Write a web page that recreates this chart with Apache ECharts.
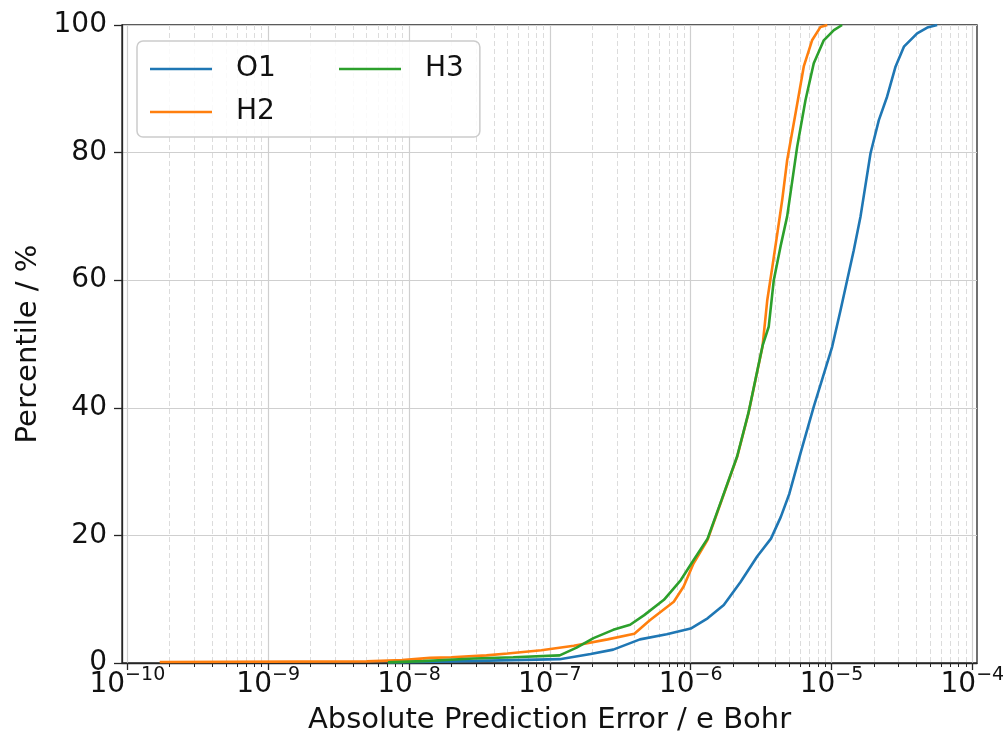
<!DOCTYPE html>
<html>
<head>
<meta charset="utf-8">
<title>Absolute Prediction Error CDF</title>
<script src="https://cdn.jsdelivr.net/npm/echarts@6/dist/echarts.min.js"></script>
<style>
  html, body { margin: 0; padding: 0; background: #ffffff; }
  #chart { width: 1008px; height: 740px; }
</style>
</head>
<body>
<div id="chart"></div>
<script>
// Cumulative distribution of the absolute prediction error per atom.
// x values are log10 of the error (e Bohr), y values are percentiles (%).
const seriesNames = ['O1', 'H2', 'H3'];
const seriesColors = ['#1f77b4', '#ff7f0e', '#2ca02c'];

const o1Log10Err = [-8.15, -7.7, -7.26, -6.93, -6.71, -6.55, -6.36, -6.17, -6.0, -5.88, -5.765, -5.646, -5.528, -5.43, -5.36, -5.30, -5.22, -5.126, -5.067, -4.995, -4.936, -4.889, -4.842, -4.794, -4.723, -4.664, -4.605, -4.545, -4.486, -4.392, -4.32, -4.25];
const o1Pct        = [0.1, 0.25, 0.45, 0.6, 1.4, 2.1, 3.7, 4.5, 5.4, 7.0, 9.1, 12.7, 16.7, 19.5, 22.9, 26.5, 32.9, 40.2, 44.4, 49.6, 55.3, 60.0, 64.7, 70.0, 79.9, 85.1, 88.8, 93.5, 96.6, 98.7, 99.6, 100];

const h2Log10Err = [-9.77, -8.3, -8.05, -7.85, -7.7, -7.45, -7.3, -7.06, -6.83, -6.59, -6.40, -6.29, -6.12, -6.05, -5.98, -5.88, -5.78, -5.67, -5.59, -5.53, -5.49, -5.456, -5.42, -5.385, -5.35, -5.315, -5.256, -5.197, -5.138, -5.078, -5.03];
const h2Pct        = [0.15, 0.25, 0.45, 0.8, 0.9, 1.2, 1.5, 2.0, 2.7, 3.7, 4.6, 6.7, 9.6, 12.0, 15.6, 19.3, 25.5, 32.3, 39.1, 45.4, 49.6, 56.9, 62.1, 67.3, 72.6, 78.8, 86.1, 93.5, 97.6, 99.7, 100];

const h3Log10Err = [-8.15, -7.9, -7.54, -7.26, -6.93, -6.81, -6.69, -6.55, -6.43, -6.33, -6.19, -6.07, -5.98, -5.88, -5.78, -5.67, -5.59, -5.53, -5.49, -5.446, -5.41, -5.362, -5.315, -5.244, -5.185, -5.126, -5.055, -4.983, -4.925];
const h3Pct        = [0.1, 0.3, 0.7, 0.9, 1.2, 2.4, 3.9, 5.2, 6.0, 7.5, 9.9, 13.0, 16.1, 19.5, 25.6, 32.4, 39.2, 45.5, 49.7, 52.7, 60.0, 65.3, 70.0, 80.9, 88.2, 94.0, 97.6, 99.2, 100];

// Axis ticks: decades carry labels, 2..9 x 10^n get minor ticks and dashed grid.
const decadeExponents = [-10, -9, -8, -7, -6, -5, -4];
const yTicks = [0, 20, 40, 60, 80, 100];

const xMin = -10.038;
const xMax = -3.967;

const minorTicks = [];
for (let n = -11; n <= -4; n++) {
  for (let k = 2; k <= 9; k++) {
    const v = n + Math.log10(k);
    if (v > xMin && v < xMax) minorTicks.push(v);
  }
}

const FONT = 'DejaVu Sans';
const TXT = '#111111';

function pairs(xs, ys) {
  return xs.map((x, i) => [x, ys[i]]);
}

const seriesData = [pairs(o1Log10Err, o1Pct), pairs(h2Log10Err, h2Pct), pairs(h3Log10Err, h3Pct)];

const chart = echarts.init(document.getElementById('chart'), null, { renderer: 'canvas' });

chart.setOption({
  backgroundColor: '#ffffff',
  animation: false,
  textStyle: { fontFamily: FONT },
  grid: {
    left: 122, right: 31, top: 25, bottom: 77,
    show: true,
    borderColor: '#262626',
    borderWidth: 1.3,
    backgroundColor: 'transparent'
  },
  legend: {
    data: ['O1', 'H3', 'H2'],
    left: 137,
    top: 41,
    width: 330,
    orient: 'horizontal',
    padding: [14, 16, 11, 13],
    itemGap: 15,
    icon: 'rect',
    itemWidth: 62,
    itemHeight: 2.6,
    backgroundColor: 'rgba(255,255,255,0.85)',
    borderColor: '#cccccc',
    borderWidth: 1.5,
    borderRadius: 6,
    formatter: function (name) {
      return name === 'H3' ? '{g|}{n|' + name + '}' : '{g|}{w|' + name + '}';
    },
    textStyle: {
      fontFamily: FONT,
      fontSize: 28,
      color: TXT,
      rich: {
        g: { width: 19, lineHeight: 30 },
        w: { width: 88, fontSize: 28, lineHeight: 30, fontFamily: FONT, color: TXT },
        n: { fontSize: 28, lineHeight: 30, fontFamily: FONT, color: TXT }
      }
    }
  },
  xAxis: [
    {
      type: 'value',
      min: xMin,
      max: xMax,
      position: 'bottom',
      name: 'Absolute Prediction Error / e Bohr',
      nameLocation: 'middle',
      nameGap: 43,
      nameTextStyle: { fontFamily: FONT, fontSize: 29, color: TXT },
      axisLine: { show: true, lineStyle: { color: '#262626', width: 1.3 } },
      axisTick: {
        show: true, inside: false, length: 7,
        customValues: decadeExponents,
        lineStyle: { color: '#262626', width: 1.3 }
      },
      axisLabel: {
        show: true,
        margin: 8,
        customValues: decadeExponents,
        formatter: function (v) {
          const e = Math.round(v);
          return '{a|10}{b|' + (e < 0 ? '\u2212' : '') + Math.abs(e) + '}';
        },
        rich: {
          a: { fontFamily: FONT, fontSize: 28, lineHeight: 28, color: TXT, verticalAlign: 'bottom' },
          b: { fontFamily: FONT, fontSize: 19, lineHeight: 19, color: TXT, verticalAlign: 'bottom', padding: [0, 0, 14, 0] }
        }
      },
      splitLine: { show: true, lineStyle: { color: '#cfcfcf', width: 1.2, type: 'solid' } }
    },
    {
      type: 'value',
      min: xMin,
      max: xMax,
      position: 'bottom',
      axisLine: { show: false },
      axisTick: {
        show: true, inside: false, length: 4,
        customValues: minorTicks,
        lineStyle: { color: '#262626', width: 1 }
      },
      axisLabel: { show: false },
      splitLine: { show: true, lineStyle: { color: '#dcdcdc', width: 1, type: [5, 3] } }
    }
  ],
  yAxis: {
    type: 'value',
    min: 0,
    max: 100,
    interval: 20,
    name: 'Percentile / %',
    nameLocation: 'middle',
    nameGap: 69,
    nameRotate: 90,
    nameTextStyle: { fontFamily: FONT, fontSize: 29, color: TXT },
    axisLine: { show: true, lineStyle: { color: '#262626', width: 1.3 } },
    axisTick: { show: true, inside: false, length: 8, lineStyle: { color: '#262626', width: 1.3 } },
    axisLabel: {
      margin: 15,
      fontFamily: FONT,
      fontSize: 28,
      color: TXT,
      customValues: yTicks
    },
    splitLine: { show: true, lineStyle: { color: '#cfcfcf', width: 1.2 } }
  },
  series: seriesNames.map((name, i) => ({
    name: name,
    type: 'line',
    xAxisIndex: 0,
    data: seriesData[i],
    symbol: 'none',
    smooth: false,
    color: seriesColors[i],
    lineStyle: { color: seriesColors[i], width: 2.6 },
    z: 2 + i
  }))
});
</script>
</body>
</html>
